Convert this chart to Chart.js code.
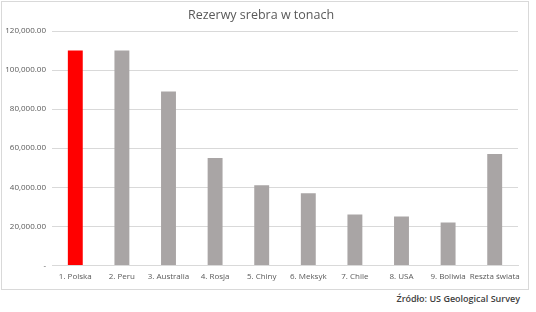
<!DOCTYPE html>
<html>
<head>
<meta charset="utf-8">
<script src="https://cdn.jsdelivr.net/npm/chart.js@4/dist/chart.umd.min.js"></script>
<style>
  body { margin: 0; background: #fff; width: 536px; height: 312px; overflow: hidden; }
  #box { position: absolute; left: 1px; top: 1px; width: 526px; height: 287px; border: 1px solid #d9d9d9; }
  #source { position: absolute; right: 16px; top: 292px; font: 600 9px "Open Sans", sans-serif; color: #404040; }
</style>
</head>
<body>
<div id="box"><canvas id="c"></canvas></div>
<div id="source">Źródło: US Geological Survey</div>
<script>
/* dane z wykresu */
const kraje = ["1. Polska", "2. Peru", "3. Australia", "4. Rosja", "5. Chiny", "6. Meksyk", "7. Chile", "8. USA", "9. Boliwia", "Reszta świata"];
const rezerwy = [110000, 110000, 89000, 55000, 41000, 37000, 26000, 25000, 22000, 57000];
const kolory = ["#ff0000", "#a9a5a5", "#a9a5a5", "#a9a5a5", "#a9a5a5", "#a9a5a5", "#a9a5a5", "#a9a5a5", "#a9a5a5", "#a9a5a5"];
const tytul = "Rezerwy srebra w tonach";

const fmt = (v) => v === 0 ? "-" : v.toLocaleString("en-US", { minimumFractionDigits: 2, maximumFractionDigits: 2 });

new Chart(document.getElementById("c"), {
  type: "bar",
  data: {
    labels: kraje,
    datasets: [{ data: rezerwy, backgroundColor: kolory, barPercentage: 0.32, categoryPercentage: 1 }],
  },
  options: {
    responsive: true,
    maintainAspectRatio: false,
    animation: false,
    layout: { padding: { left: 2, right: 10, top: 0, bottom: 0 } },
    plugins: {
      legend: { display: false },
      tooltip: { enabled: false },
      title: {
        display: true,
        text: tytul,
        color: "#595959",
        font: { family: "Open Sans", size: 12.5, weight: "normal" },
        padding: { top: 6, bottom: 8 },
      },
    },
    scales: {
      y: {
        min: 0,
        max: 120000,
        afterFit: (s) => { s.width = 48; },
        ticks: { stepSize: 20000, callback: fmt, color: "#595959", font: { family: "Open Sans", size: 8 }, padding: 6 },
        grid: { color: "#d9d9d9", drawTicks: false },
        border: { display: false },
      },
      x: {
        ticks: { color: "#595959", font: { family: "Open Sans", size: 8 }, padding: 7, maxRotation: 0, autoSkip: false },
        grid: { display: false, drawTicks: false },
        border: { color: "#d9d9d9" },
      },
    },
  },
});
</script>
</body>
</html>
